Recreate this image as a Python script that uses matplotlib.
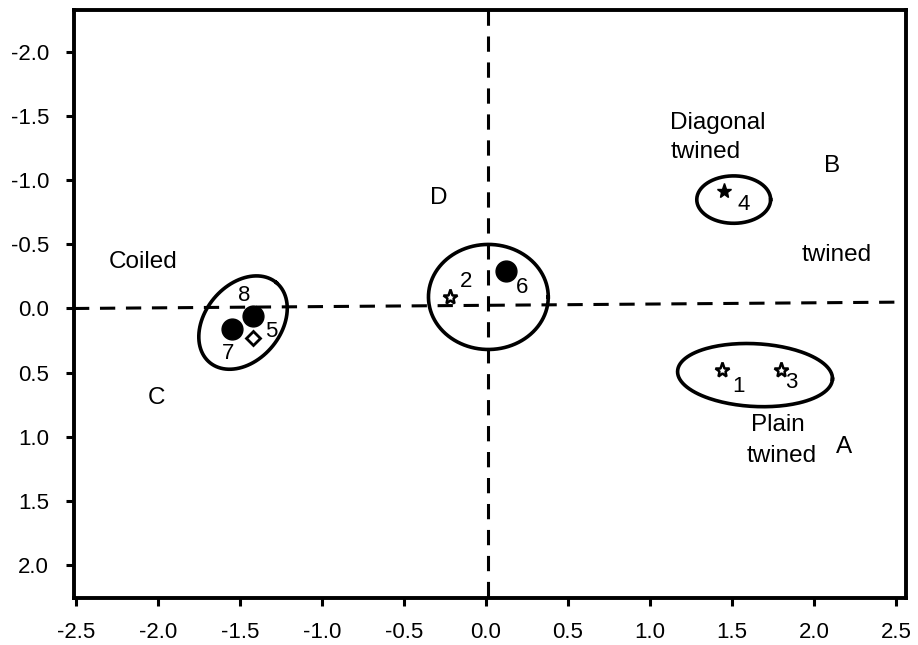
import numpy as np
import matplotlib.pyplot as plt

plt.rcParams['font.family'] = ['Liberation Sans', 'DejaVu Sans']

# sample positions (y axis runs downward)
point_ids = ["1", "2", "3", "4", "5", "6", "7", "8"]
point_x = [1.44, -0.22, 1.80, 1.45, -1.42, 0.12, -1.55, -1.42]
point_y = [0.48, -0.09, 0.48, -0.92, 0.23, -0.29, 0.16, 0.06]
point_kind = ["star", "star", "star", "filled_star", "diamond", "dot", "dot", "dot"]

# where the number labels sit relative to each point
label_x = [1.54, -0.12, 1.86, 1.57, -1.31, 0.22, -1.57, -1.47]
label_y = [0.61, -0.21, 0.58, -0.81, 0.18, -0.16, 0.35, -0.10]

# group ellipses: centre x, centre y, width, height, tilt (deg, screen space)
group_cx = [1.51, 1.64, 0.015, -1.48]
group_cy = [-0.85, 0.52, -0.09, 0.11]
group_w = [0.45, 0.945, 0.73, 0.634]
group_h = [0.37, 0.49, 0.82, 0.59]
group_tilt = [0, -3, 0, 50]

# region / group text
note_text = ["Diagonal", "twined", "B", "twined", "D", "Coiled", "C", "Plain", "twined", "A"]
note_x = [1.41, 1.34, 2.11, 2.14, -0.29, -2.09, -2.01, 1.78, 1.80, 2.18]
note_y = [-1.45, -1.22, -1.11, -0.42, -0.86, -0.36, 0.70, 0.91, 1.15, 1.08]

x_ticks = [-2.5, -2.0, -1.5, -1.0, -0.5, 0.0, 0.5, 1.0, 1.5, 2.0, 2.5]
y_ticks = [-2.0, -1.5, -1.0, -0.5, 0.0, 0.5, 1.0, 1.5, 2.0]


def main():
    fig = plt.figure(figsize=(9.18, 6.45), dpi=100)
    ax = fig.add_axes([74 / 918, 1 - 598 / 645, (906 - 74) / 918, (598 - 10) / 645])
    ax.set_xlim(-2.51, 2.56)
    ax.set_ylim(2.26, -2.33)

    # dashed cross through the origin
    ax.plot([-2.51, 2.56], [0.0, -0.05], color="black", lw=2.2, ls=(0, (5, 3.5)))
    ax.plot([0.01, 0.01], [-2.33, 2.26], color="black", lw=2.2, ls=(0, (5, 3.5)))

    # ellipses drawn in screen proportions so the tilt looks right
    sx, sy = 164.0, 128.0
    t = np.linspace(0, 2 * np.pi, 200)
    for cx, cy, w, h, tilt in zip(group_cx, group_cy, group_w, group_h, group_tilt):
        a = w / 2 * sx
        b = h / 2 * sy
        ang = np.radians(tilt)
        px = a * np.cos(t) * np.cos(ang) - b * np.sin(t) * np.sin(ang)
        py = -(a * np.cos(t) * np.sin(ang) + b * np.sin(t) * np.cos(ang))
        ax.plot(cx + px / sx, cy + py / sy, color="black", lw=2.6)

    for x, y, kind in zip(point_x, point_y, point_kind):
        if kind == "star":
            ax.plot(x, y, marker="*", ms=11, mfc="white", mec="black", mew=1.8)
        elif kind == "filled_star":
            ax.plot(x, y, marker="*", ms=11, mfc="black", mec="black")
        elif kind == "diamond":
            ax.plot(x, y, marker="D", ms=7, mfc="white", mec="black", mew=2)
        else:
            ax.plot(x, y, marker="o", ms=15, mfc="black", mec="black")

    for name, x, y in zip(point_ids, label_x, label_y):
        ax.text(x, y, name, fontsize=16, ha="center", va="center")

    for txt, x, y in zip(note_text, note_x, note_y):
        ax.text(x, y, txt, fontsize=17.5, ha="center", va="center")

    ax.set_xticks(x_ticks)
    ax.set_xticklabels([f"{v:.1f}" for v in x_ticks])
    ax.set_yticks(y_ticks)
    ax.set_yticklabels([f"{v:.1f}" for v in y_ticks])
    ax.tick_params(axis="both", direction="out", length=6, width=2.2, labelsize=16)
    ax.tick_params(axis="y", pad=12)
    ax.tick_params(axis="x", pad=11)
    for spine in ax.spines.values():
        spine.set_linewidth(2.8)

    fig.savefig("out.png", dpi=100)


if __name__ == "__main__":
    main()
